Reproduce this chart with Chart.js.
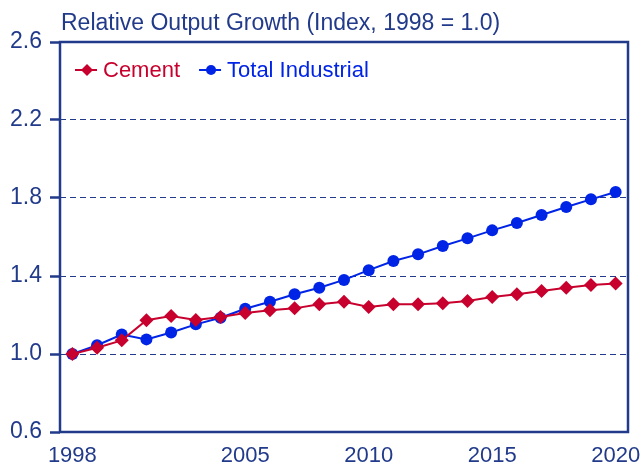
<!DOCTYPE html>
<html>
<head>
<meta charset="utf-8">
<script src="https://cdn.jsdelivr.net/npm/chart.js@4/dist/chart.umd.min.js"></script>
<style>
  html, body { margin: 0; padding: 0; background: #fff; }
  #wrap { width: 642px; height: 466px; }
</style>
</head>
<body>
<div id="wrap"><canvas id="growth-chart"></canvas></div>
<script>
const TITLE = "Relative Output Growth (Index, 1998 = 1.0)";
const YEARS = [1998, 1999, 2000, 2001, 2002, 2003, 2004, 2005, 2006, 2007, 2008,
               2009, 2010, 2011, 2012, 2013, 2014, 2015, 2016, 2017, 2018, 2019, 2020];
const SHOWN_YEARS = [1998, 2005, 2010, 2015, 2020];
const CEMENT = [1.00, 1.032, 1.07, 1.173, 1.195, 1.174, 1.19, 1.21, 1.224, 1.234, 1.255,
                1.268, 1.241, 1.255, 1.255, 1.26, 1.272, 1.292, 1.306, 1.323, 1.34, 1.354, 1.362];
const TOTAL_INDUSTRIAL = [1.00, 1.045, 1.10, 1.075, 1.11, 1.152, 1.186, 1.232, 1.268, 1.306, 1.34,
                          1.38, 1.43, 1.477, 1.511, 1.554, 1.593, 1.634, 1.672, 1.713, 1.754, 1.793, 1.831];
const Y_TICKS = [0.6, 1.0, 1.4, 1.8, 2.2, 2.6];

const NAVY = "#213a8a";
const RED = "#c8002d";
const BLUE = "#0024e6";
const FONT = "'Liberation Sans', Arial, sans-serif";

Chart.defaults.font.family = FONT;
Chart.defaults.color = NAVY;

// frame, title and legend drawn over the chart
const decorations = {
    id: "decorations",
    afterDraw(chart) {
        const ctx = chart.ctx;
        const a = chart.chartArea;
        ctx.save();
        ctx.strokeStyle = NAVY;
        ctx.lineWidth = 2.5;
        ctx.strokeRect(a.left, a.top, a.right - a.left, a.bottom - a.top);

        ctx.fillStyle = NAVY;
        ctx.font = "23px " + FONT;
        ctx.textBaseline = "alphabetic";
        ctx.textAlign = "left";
        ctx.fillText(TITLE, 61, 30);

        let x = 75;
        const y = 70;
        ctx.font = "22px " + FONT;
        ctx.textBaseline = "middle";
        chart.data.datasets.forEach(ds => {
            ctx.strokeStyle = ds.borderColor;
            ctx.fillStyle = ds.borderColor;
            ctx.lineWidth = 2;
            ctx.beginPath();
            ctx.moveTo(x, y);
            ctx.lineTo(x + 22, y);
            ctx.stroke();
            const cx = x + 12;
            ctx.beginPath();
            if (ds.pointStyle === "rectRot") {
                const r = 6;
                ctx.moveTo(cx, y - r);
                ctx.lineTo(cx + r, y);
                ctx.lineTo(cx, y + r);
                ctx.lineTo(cx - r, y);
                ctx.closePath();
            } else {
                ctx.arc(cx, y, 5, 0, Math.PI * 2);
            }
            ctx.fill();
            ctx.fillText(ds.label, x + 28, y + 1);
            x += 28 + ctx.measureText(ds.label).width + 19;
        });
        ctx.restore();
    }
};

const ctx = document.getElementById("growth-chart");
new Chart(ctx, {
    type: "line",
    data: {
        labels: YEARS,
        datasets: [{
            label: "Cement",
            data: CEMENT,
            borderColor: RED,
            backgroundColor: RED,
            borderWidth: 2,
            pointStyle: "rectRot",
            pointRadius: 7,
            pointBorderWidth: 0,
            tension: 0
        }, {
            label: "Total Industrial",
            data: TOTAL_INDUSTRIAL,
            borderColor: BLUE,
            backgroundColor: BLUE,
            borderWidth: 2,
            pointStyle: "circle",
            pointRadius: 6,
            pointBorderWidth: 0,
            tension: 0
        }]
    },
    options: {
        responsive: true,
        maintainAspectRatio: false,
        animation: false,
        layout: { padding: { left: 0, right: 14, top: 42, bottom: 0 } },
        plugins: {
            legend: { display: false },
            title: { display: false },
            tooltip: { enabled: false }
        },
        scales: {
            x: {
                offset: true,
                grid: { display: false, drawTicks: false },
                border: { display: false },
                ticks: {
                    autoSkip: false,
                    maxRotation: 0,
                    padding: 11,
                    color: NAVY,
                    font: { size: 22 },
                    callback: function (val, i) {
                        const y = YEARS[i];
                        return SHOWN_YEARS.includes(y) ? String(y) : "";
                    }
                },
                afterFit: s => {
                    s.height = 34;
                    s.paddingLeft = 0;
                    s.paddingRight = 0;
                }
            },
            y: {
                min: 0.6,
                max: 2.6,
                afterBuildTicks: s => { s.ticks = Y_TICKS.map(v => ({ value: v })); },
                grid: {
                    color: NAVY,
                    lineWidth: 1,
                    tickLength: 10,
                    tickColor: NAVY,
                    tickWidth: 2.5,
                    tickBorderDash: []
                },
                border: { display: false, dash: [6, 4] },
                ticks: {
                    padding: 8,
                    color: NAVY,
                    font: { size: 23 },
                    callback: v => Number(v).toFixed(1)
                },
                afterFit: s => {
                    s.width = 60;
                    s.paddingTop = 0;
                    s.paddingBottom = 0;
                }
            }
        }
    },
    plugins: [decorations]
});
</script>
</body>
</html>
